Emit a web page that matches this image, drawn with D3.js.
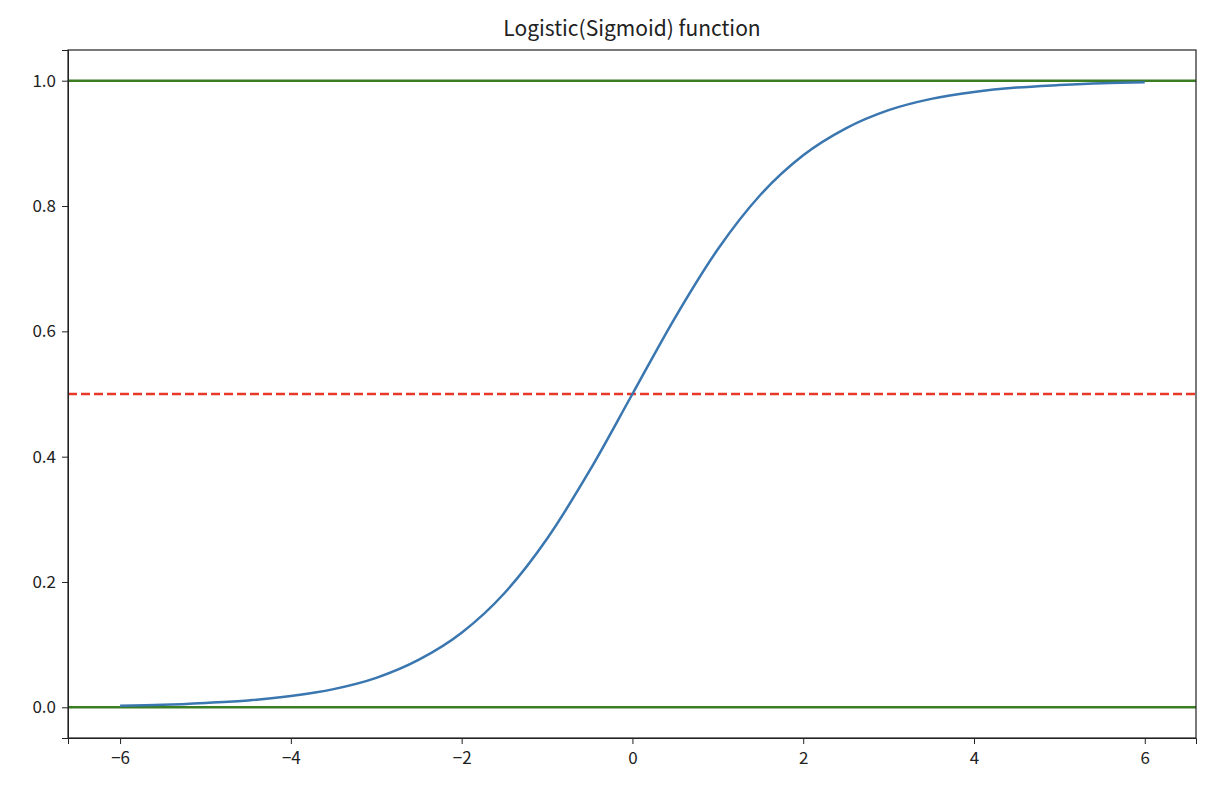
<!DOCTYPE html>
<html>
<head>
<meta charset="utf-8">
<script src="https://cdn.jsdelivr.net/npm/d3@7"></script>
<style>
body { margin: 0; background: #fff; font-family: "Noto Sans CJK KR", "DejaVu Sans", sans-serif; }
.axis text { font-size: 17px; fill: #222; font-family: "Noto Sans CJK KR", "DejaVu Sans", sans-serif; }
.axis path, .axis line { stroke: #222; }
</style>
</head>
<body>
<div class="chart"></div>
<script>
// values
let xs = [-6, -5.5, -5, -4.5, -4, -3.5, -3, -2.5, -2, -1.5, -1, -0.5, 0, 0.5, 1, 1.5, 2, 2.5, 3, 3.5, 4, 4.5, 5, 5.5, 6];
let ys = [0.0025, 0.004, 0.007, 0.011, 0.018, 0.029, 0.047, 0.076, 0.119, 0.182, 0.269, 0.378, 0.5, 0.622, 0.731, 0.818, 0.881, 0.924, 0.953, 0.971, 0.982, 0.989, 0.993, 0.996, 0.9975];
let hLines = [0, 1];
let midLine = 0.5;
let xTicks = [-6, -4, -2, 0, 2, 4, 6];
let yTicks = [0, 0.2, 0.4, 0.6, 0.8, 1.0];

let margin = { top: 50, right: 14, bottom: 58, left: 68 },
  width = 1210 - margin.left - margin.right,
  height = 796 - margin.top - margin.bottom;

let svg = d3.select(".chart").append("svg")
  .attr("width", 1210).attr("height", 796)
  .append("g")
  .attr("transform", "translate(" + margin.left + "," + margin.top + ")");

let x = d3.scaleLinear().domain([-6.61, 6.6]).range([0, width]);
let y = d3.scaleLinear().domain([-0.049, 1.049]).range([height, 0]);

svg.selectAll(".hline").data(hLines).enter().append("line")
  .attr("x1", 0).attr("x2", width)
  .attr("y1", d => y(d)).attr("y2", d => y(d))
  .attr("stroke", "#3a7d22").attr("stroke-width", 2.5);

svg.append("line")
  .attr("x1", 0).attr("x2", width)
  .attr("y1", y(midLine)).attr("y2", y(midLine))
  .attr("stroke", "#e8382a").attr("stroke-width", 2.5)
  .attr("stroke-dasharray", "9,4");

let data = xs.map((v, i) => [v, ys[i]]);
svg.append("path").datum(data)
  .attr("fill", "none").attr("stroke", "#3a76af").attr("stroke-width", 2.5)
  .attr("d", d3.line().x(d => x(d[0])).y(d => y(d[1])).curve(d3.curveMonotoneX));

svg.append("g").attr("class", "axis")
  .attr("transform", "translate(0," + height + ")")
  .call(d3.axisBottom(x).tickValues(xTicks).tickFormat(d3.format("d")).tickSizeOuter(0).tickSize(6).tickPadding(8));
svg.append("g").attr("class", "axis")
  .call(d3.axisLeft(y).tickValues(yTicks).tickFormat(d3.format(".1f")).tickSizeOuter(0).tickSize(6).tickPadding(6));

svg.append("rect").attr("width", width).attr("height", height)
  .attr("fill", "none").attr("stroke", "#222").attr("stroke-width", 1.2);

svg.append("text").attr("x", width / 2).attr("y", -14)
  .attr("text-anchor", "middle").attr("font-size", 21).attr("fill", "#222")
  .text("Logistic(Sigmoid) function");
</script>
</body>
</html>
